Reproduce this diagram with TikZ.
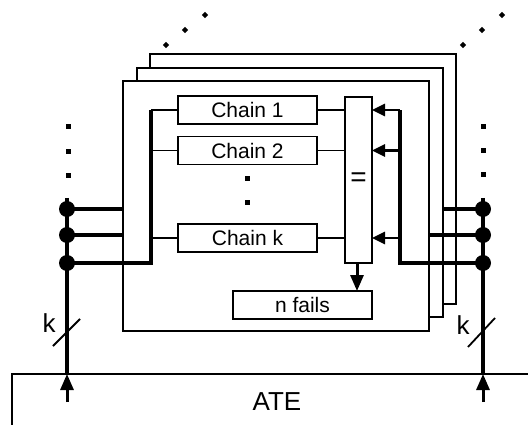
\documentclass[tikz,border=0pt]{standalone}
\usepackage{fontspec}
\setmainfont{Liberation Sans}
\usetikzlibrary{arrows.meta,positioning}

\begin{document}
\begin{tikzpicture}[x=1pt,y=-1pt,every node/.style={font=\fontsize{21}{25}\selectfont},
  frame/.style={draw,line width=1.8pt,fill=white,outer sep=0pt,anchor=north west,minimum width=306pt,minimum height=250pt},
  box/.style={draw,line width=1.8pt,fill=white,outer sep=0pt,inner sep=0pt,minimum width=139pt,minimum height=28pt},
  thin/.style={line width=1.8pt},
  bus/.style={line width=4.5pt},
  tip/.style={line width=2.6pt,-{Triangle[length=13pt,width=12pt]}},
  bigtip/.style={line width=3pt,-{Triangle[length=16pt,width=13pt]}},
  busdot/.style={circle,fill,inner sep=0pt,minimum size=16pt},
  sqdot/.style={fill,inner sep=0pt,minimum size=5pt},
  dmdot/.style={fill,inner sep=0pt,minimum size=4.5pt,rotate=45}]
\useasboundingbox (0,0) rectangle (528,425);
% stacked scan frames
\foreach \dx/\dy in {166/45,185/30,205/15,463/45,482/30,502/15}
  \node[dmdot] at (\dx,\dy) {};
\node[frame] (back) at (150,54) {};
\node[frame,minimum height=249pt] (mid) at (137,68) {};
\node[frame] (front) at (123,81) {};
% chains and comparator
\node[box] (c1) at (247.5,110) {Chain 1};
\node[box] (c2) at (247.5,150.5) {Chain 2};
\node[box] (ck) at (247.5,238) {Chain k};
\node[sqdot] (cd1) at (247,179) {};
\node[sqdot] (cd2) at (247,203) {};
\node[draw,line width=1.8pt,outer sep=0pt,minimum width=27pt,minimum height=166pt,font=\fontsize{28}{30}\selectfont] (eq) at (358.5,180) {=};
\node[box] (nf) at (302.5,305) {n fails};
\foreach \c in {c1,c2,ck}
  \draw[thin] (\c.east) -- (\c.east -| eq.west);
\draw[bigtip] (eq.south -| 357,0) -- (nf.north -| 357,0);
% left bus
\coordinate (lt) at (67,198);
\coordinate (lb) at (67,374);
\coordinate (la) at (67,402);
\coordinate (lv) at (151,0);
\node[busdot] (l1) at (67,209) {};
\node[busdot] (l2) at (67,235) {};
\node[busdot] (l3) at (67,263) {};
\foreach \y in {127,152,176}
  \node[sqdot] at (68,\y) {};
\draw[bus] (lt) -- (lb);
\draw[bus] (l1.center) -- (l1 -| front.west);
\draw[bus] (l2.center) -- (l2 -| front.west);
\draw[bus] (l3.center) -- (l3 -| lv) -- (c1.west -| lv);
\foreach \c in {c1,c2,ck}
  \draw[thin] (\c.west -| lv) -- (\c.west);
\draw[bigtip] (la) -- (lb);
\draw[thin] (53,346) -- (80,319);
\node (kl) at (49,323) {\fontsize{26}{30}\selectfont k};
% right bus
\coordinate (rt) at (483,198);
\coordinate (rb) at (483,374);
\coordinate (ra) at (483,402);
\coordinate (rv) at (400,0);
\node[busdot] (r1) at (483,209) {};
\node[busdot] (r2) at (483,235) {};
\node[busdot] (r3) at (483,263) {};
\foreach \y in {127,151,175}
  \node[sqdot] at (483,\y) {};
\draw[bus] (rt) -- (rb);
\draw[bus] (r1.center) -- (r1 -| mid.east);
\draw[bus] (r2.center) -- (r2 -| front.east);
\draw[bus] (r3.center) -- (r3 -| rv) -- (c1.east -| rv);
\draw[tip] (c1.east -| rv) -- (c1.east -| eq.east);
\draw[tip] (c2.east -| rv) -- (c2.east -| eq.east);
\draw[tip] (ck.east -| rv) -- (ck.east -| eq.east);
\draw[bigtip] (ra) -- (rb);
\draw[thin] (468,347) -- (495,318);
\node (kr) at (463,325) {\fontsize{26}{30}\selectfont k};
% tester
\draw[thin] (12,425) -- (12,374) -- (528,374);
\node (ate) at (277,402) {\fontsize{26}{30}\selectfont ATE};
\end{tikzpicture}
\end{document}
